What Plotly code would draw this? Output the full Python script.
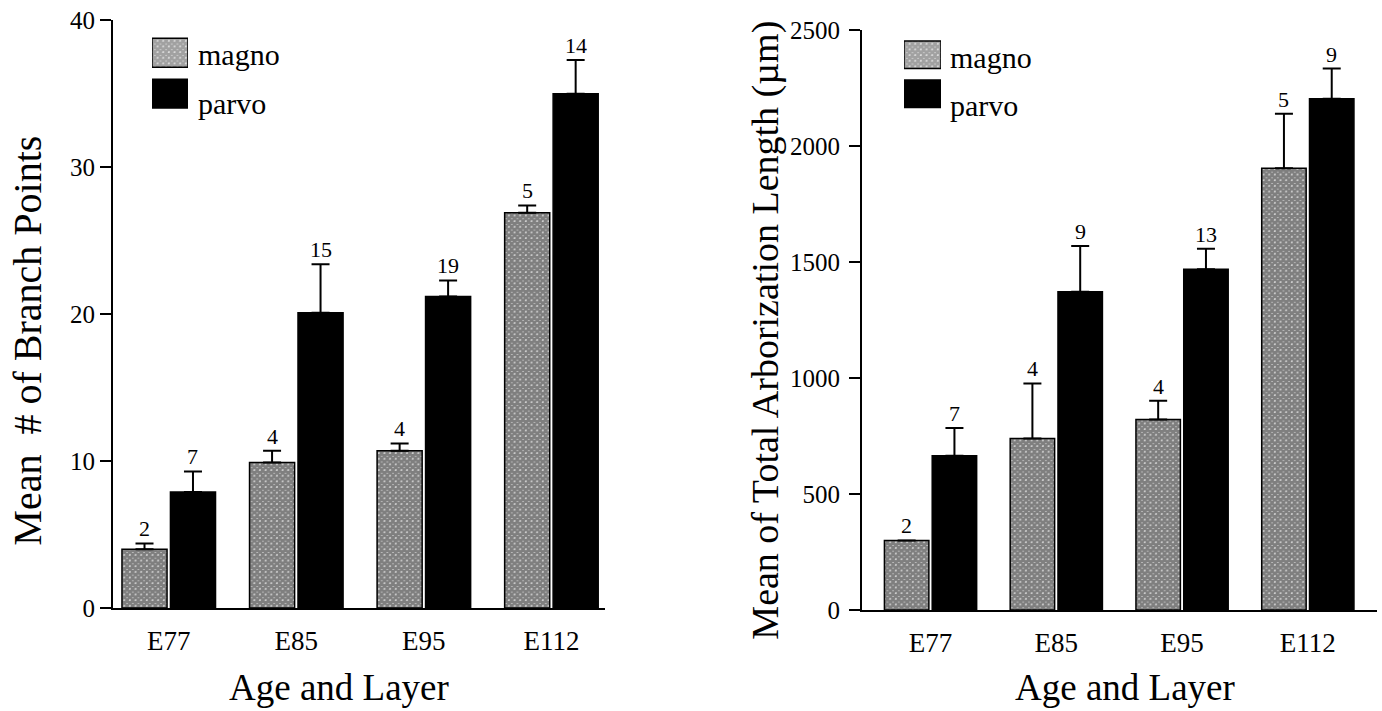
import plotly.graph_objects as go

# ---------------- data ----------------
ages = ["E77", "E85", "E95", "E112"]
series = ["magno", "parvo"]

branch_magno = [4.0, 9.9, 10.7, 26.9]
branch_magno_err = [0.4, 0.8, 0.5, 0.5]
branch_parvo = [7.9, 20.1, 21.2, 35.0]
branch_parvo_err = [1.4, 3.3, 1.1, 2.3]
branch_magno_n = [2, 4, 4, 5]
branch_parvo_n = [7, 15, 19, 14]

length_magno = [300, 740, 822, 1905]
length_magno_err = [0, 237, 80, 235]
length_parvo = [665, 1373, 1470, 2205]
length_parvo_err = [120, 197, 88, 130]
length_magno_n = [2, 4, 4, 5]
length_parvo_n = [7, 9, 13, 9]

branch_ticks = [0, 10, 20, 30, 40]
length_ticks = [0, 500, 1000, 1500, 2000, 2500]

# ---------------- style ----------------
W, H = 1382, 711
FONT = "Liberation Serif"
BARGAP = 0.24
BARGROUPGAP = 0.07
PAT = dict(shape="x", size=4, solidity=0.9, fgcolor="black", bgcolor="white")

# the photographed page shows the figure slightly squeezed vertically; compensate
V_OFF, V_SCALE = 12.7, 0.964


def px(x):
    return x / W


def py(y):
    return 1 - ((y - V_OFF) / V_SCALE) / H


panels = [
    dict(xa="x", ya="y", xdom=[113, 605], ydom=[609, 20], xr=[-0.437, 3.42], yr=[0, 40],
         ticks=branch_ticks, tstand=0, data=[(branch_magno, branch_magno_err, branch_magno_n),
                                             (branch_parvo, branch_parvo_err, branch_parvo_n)],
         ytitle="Mean\u00a0\u00a0# of Branch Points", ytx=28, yty=341, ytsize=40, xtx=339,
         leg=dict(x=[152, 188], y=[32, 114], tx=196, ty=[54, 103])),
    dict(xa="x2", ya="y2", xdom=[862, 1377], ydom=[611, 30], xr=[-0.545, 3.55], yr=[0, 2500],
         ticks=length_ticks, tstand=4, data=[(length_magno, length_magno_err, length_magno_n),
                                             (length_parvo, length_parvo_err, length_parvo_n)],
         ytitle="Mean of Total Arborization Length (\u00b5m)", ytx=766, yty=331, ytsize=38,
         xtx=1125, leg=dict(x=[904, 941], y=[35, 113], tx=948, ty=[57, 105])),
]

fig = go.Figure()
annotations = []
layout = {}

for i, p in enumerate(panels):
    sfx = "" if i == 0 else str(i + 1)
    # bars
    for s, (vals, errs, ns) in enumerate(p["data"]):
        is_magno = s == 0
        fig.add_trace(go.Bar(
            x=ages, y=vals, name=series[s], xaxis=p["xa"], yaxis=p["ya"],
            marker=dict(color="white" if is_magno else "black",
                        pattern=PAT if is_magno else None,
                        line=dict(color="black", width=1.5)),
            error_y=dict(type="data", array=errs, arrayminus=[0] * len(errs), symmetric=False,
                         color="black", thickness=2, width=9),
            showlegend=False,
        ))
        # count labels above error bars
        cat_px = (p["xdom"][1] - p["xdom"][0]) / (p["xr"][1] - p["xr"][0])
        off = (1 - BARGAP) / 4 * cat_px * (-1 if is_magno else 1)
        for a, v, e, n in zip(ages, vals, errs, ns):
            annotations.append(dict(x=a, y=v + e, xref=p["xa"], yref=p["ya"], text=str(n),
                                    showarrow=False, xshift=off, yanchor="bottom", yshift=0,
                                    font=dict(family=FONT, size=22, color="black")))

    layout["xaxis" + sfx] = dict(domain=[px(p["xdom"][0]), px(p["xdom"][1])], range=p["xr"],
                                 anchor="y" + sfx, showline=True, linecolor="black", linewidth=2,
                                 ticks="", ticklabelstandoff=8, showgrid=False, zeroline=False,
                                 tickfont=dict(family=FONT, size=27, color="black"))
    layout["yaxis" + sfx] = dict(domain=[py(p["ydom"][0]), py(p["ydom"][1])], range=p["yr"],
                                 anchor="x" + sfx, showline=True, linecolor="black", linewidth=2,
                                 ticks="outside", ticklen=11, tickwidth=2, tickcolor="black",
                                 tickvals=p["ticks"], showgrid=False, zeroline=False,
                                 ticklabelstandoff=p["tstand"],
                                 tickfont=dict(family=FONT, size=25, color="black"))
    # axis titles
    annotations.append(dict(x=px(p["xtx"]), y=py(689), xref="paper", yref="paper",
                            text="Age and Layer", showarrow=False, xanchor="center", yanchor="middle",
                            font=dict(family=FONT, size=37, color="black")))
    annotations.append(dict(x=px(p["ytx"]), y=py(p["yty"]), xref="paper", yref="paper",
                            text=p["ytitle"], textangle=-90, showarrow=False,
                            xanchor="center", yanchor="middle",
                            font=dict(family=FONT, size=p["ytsize"], color="black")))

    # legend swatches drawn as bars on a small legend axis
    lx = "x" + str(i + 3)
    ly = "y" + str(i + 3)
    fig.add_trace(go.Bar(
        y=series, x=[1] * len(series), orientation="h", xaxis=lx, yaxis=ly,
        marker=dict(color=["white", "black"],
                    pattern=dict(shape=["x", ""], size=PAT["size"], solidity=PAT["solidity"],
                                 fgcolor=PAT["fgcolor"], bgcolor="white"),
                    line=dict(color="black", width=1.5)),
        showlegend=False, hoverinfo="skip",
    ))
    leg = p["leg"]
    layout["xaxis" + str(i + 3)] = dict(domain=[px(leg["x"][0]), px(leg["x"][1])], range=[0, 1],
                                        anchor=ly, visible=False, fixedrange=True)
    layout["yaxis" + str(i + 3)] = dict(domain=[py(leg["y"][1]), py(leg["y"][0])],
                                        autorange="reversed", anchor=lx, visible=False,
                                        fixedrange=True)
    for name, ty in zip(series, leg["ty"]):
        annotations.append(dict(x=px(leg["tx"]), y=py(ty), xref="paper", yref="paper",
                                text=name, showarrow=False, xanchor="left", yanchor="middle",
                                font=dict(family=FONT, size=30, color="black")))

fig.update_layout(
    width=W, height=H, margin=dict(l=0, r=0, t=0, b=0),
    paper_bgcolor="white", plot_bgcolor="white",
    barmode="group", bargap=BARGAP, bargroupgap=BARGROUPGAP,
    annotations=annotations, showlegend=False,
    font=dict(family=FONT, color="black"),
    **layout,
)

fig.write_html(
    "out.html",
    config={"displayModeBar": False},
    post_script=(
        "document.body.style.margin='0';"
        "var g=document.getElementById('{plot_id}');"
        "g.style.position='fixed';g.style.left='0px';g.style.top='0px';"
    ),
)
